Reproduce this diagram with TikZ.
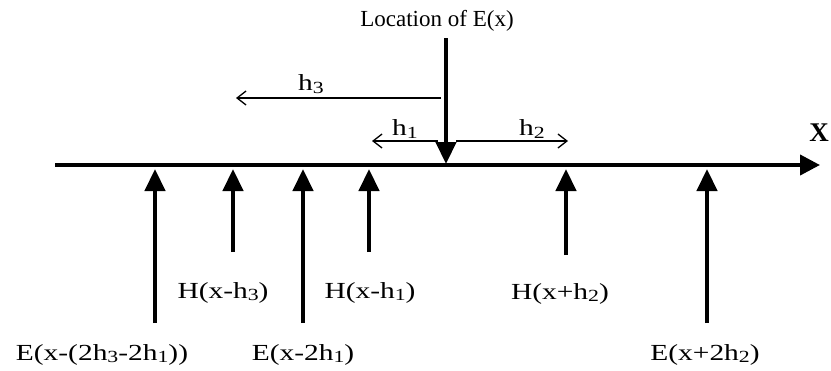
\documentclass[tikz,border=0pt]{standalone}
\usepackage{fontspec}
\setmainfont{Liberation Serif}
\newfontfamily\widefont[FakeStretch=1.28]{Liberation Serif}
\usetikzlibrary{arrows.meta}
\newcommand{\sbs}[1]{\raisebox{-0.22ex}{\fontsize{17}{18}\selectfont #1}}
\tikzset{
  lbl/.style={font=\widefont\fontsize{23}{26}\selectfont, inner sep=0pt},
  toplbl/.style={font=\fontsize{23}{26}\selectfont, inner sep=0pt},
  bigarrow/.style={line width=4.5pt, -{Triangle[width=20pt,length=22pt]}},
  axisarrow/.style={line width=4pt, -{Triangle[width=20pt,length=20pt]}},
  harrow/.style={line width=1.3pt, -{Straight Barb[length=9pt,width=14pt,line width=1.3pt]}}
}
\begin{document}
\begin{tikzpicture}[x=1pt,y=-1pt]
\useasboundingbox (0,0) rectangle (831,370);
% axis
\coordinate (ax0) at (55,165);
\coordinate (ax1) at (820,165);
\draw[axisarrow] (ax0) -- (ax1);
\node[inner sep=0pt, font=\fontsize{27}{28}\selectfont\bfseries] (X) at (819,133) {X};
% location arrow
\node[toplbl] (loc) at (437,21) {Location of E(x)};
\coordinate (locs) at (446,38);
\coordinate (loce) at (446,164);
\draw[bigarrow] (locs) -- (loce);
% h arrows
\coordinate (h3s) at (441,98);
\coordinate (h3e) at (236,98);
\draw[harrow] (h3s) -- (h3e);
\node[lbl] (h3) at (311,84) {h\sbs{3}};
\coordinate (h1s) at (438,141);
\coordinate (h1e) at (372,141);
\draw[harrow] (h1s) -- (h1e);
\node[lbl] (h1) at (405,129) {h\sbs{1}};
\coordinate (h2s) at (456,141);
\coordinate (h2e) at (568,141);
\draw[harrow] (h2s) -- (h2e);
\node[lbl] (h2) at (532,129) {h\sbs{2}};
% up arrows
\foreach \n/\xx/\yy in {a/155/323, b/233/252, c/303/323, d/369/252, e/566/255, f/707/323}{
  \coordinate (s\n) at (\xx,\yy);
  \coordinate (t\n) at (\xx,169);
  \draw[bigarrow] (s\n) -- (t\n);
}
\node[lbl] (La) at (102,355) {E(x-(2h\sbs{3}-2h\sbs{1}))};
\node[lbl] (Lb) at (223,293) {H(x-h\sbs{3})};
\node[lbl] (Lc) at (303,355) {E(x-2h\sbs{1})};
\node[lbl] (Ld) at (370,293) {H(x-h\sbs{1})};
\node[lbl] (Le) at (560,294) {H(x+h\sbs{2})};
\node[lbl] (Lf) at (705,355) {E(x+2h\sbs{2})};
\end{tikzpicture}
\end{document}
